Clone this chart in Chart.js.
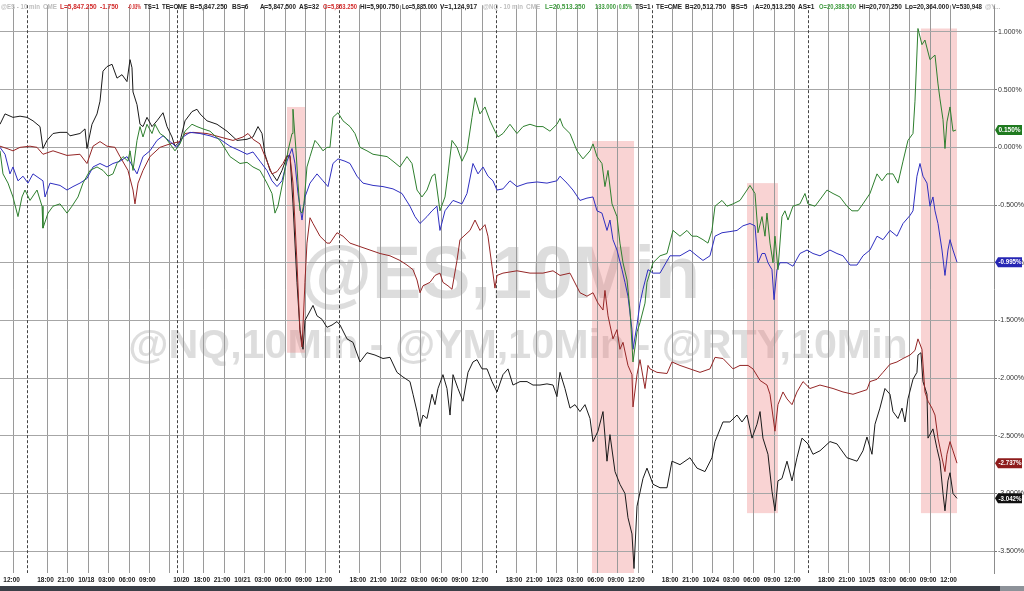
<!DOCTYPE html>
<html><head><meta charset="utf-8">
<script src="https://cdn.jsdelivr.net/npm/chart.js@4.4.0/dist/chart.umd.min.js"></script>
<style>html,body{margin:0;padding:0;background:#fff;overflow:hidden}#wrap{width:1024px;height:591px;position:relative}</style>
</head><body><div id="wrap"><canvas id="c" width="1024" height="591"></canvas></div>
<script>
// x values are trading hours from the left edge (10-min bars, session gaps removed); y values are % change
const tickHours = [2,7,10,13,16,19,22,25,27,30,33,36,39,42,45,48,53,56,59,62,65,68,71,76,79,82,85,88,91,94,99,102,105,108,111,114,117,122,125,128,131,134,137,140];
const tickLabels = ['12:00','18:00','21:00','10/18','03:00','06:00','09:00','','10/20','18:00','21:00','10/21','03:00','06:00','09:00','12:00','18:00','21:00','10/22','03:00','06:00','09:00','12:00','18:00','21:00','10/23','03:00','06:00','09:00','12:00','18:00','21:00','10/24','03:00','06:00','09:00','12:00','18:00','21:00','10/25','03:00','06:00','09:00','12:00'];
const sessionBreaks = [4,26,50,73,96,119];
const yTicks = [1.0,0.5,0,-0.5,-1.0,-1.5,-2.0,-2.5,-3.0,-3.5];

const zoneStart = [42.27,87.19,110.02,135.64];
const zoneEnd = [44.92,93.38,114.58,140.95];
const zoneTop = [0.35,0.055,-0.31,1.03];
const zoneBottom = [-1.78,-3.69,-3.17,-3.17];

const blackHours = [0,0.74,1.91,2.95,3.98,4.86,5.89,6.33,6.92,7.81,8.84,9.87,10.31,11.78,12.52,12.81,13.55,14.29,14.73,15.17,15.76,16.5,17.23,17.97,18.7,19.15,19.44,19.59,20.18,20.62,21.06,21.65,22.39,23.12,24.01,24.6,25.33,25.77,26.51,27.25,28.28,29.01,29.46,30.49,31.96,33.43,34.91,36.38,37.26,38,38.59,39.03,39.77,40.8,41.53,42.27,42.71,43.15,43.74,44.18,44.63,44.92,46.1,46.69,47.42,48.16,48.9,49.63,50.08,51.11,51.99,53.02,54.05,55.23,56.41,57.44,58.47,59.35,60.38,60.83,61.42,61.86,62.3,62.89,63.63,64.07,64.51,65.24,65.83,66.28,66.72,67.45,68.19,68.93,69.66,70.25,70.99,71.73,72.46,73.2,74.08,74.82,75.55,76.59,77.62,78.5,79.53,80.56,81.45,82.03,82.48,83.21,83.95,84.69,85.42,86.16,86.9,87.34,88.07,88.81,89.4,89.84,90.58,91.31,92.05,92.49,93.08,93.38,93.82,94.7,95.29,96.18,97.21,98.24,98.97,100.15,101.62,102.65,103.83,104.86,105.31,106.48,107.51,108.55,109.28,110.02,110.76,111.49,111.94,112.37,113.11,113.7,114.14,114.58,115.17,115.91,116.65,117.38,118.12,119,119.74,120.77,122.24,123.27,124.74,126.22,127.1,127.69,128.43,128.87,129.6,130.34,131.08,131.52,132.26,132.85,133.29,133.73,134.47,135.05,135.2,135.64,135.94,136.53,136.68,137.41,138,138.44,138.89,139.18,139.62,139.92,140.36,140.95];
const blackValues = [0.20,0.29,0.26,0.27,0.26,0.23,0.18,-0.01,0.06,0.12,0.13,0.13,0.10,0.12,0.16,-0.01,0.20,0.29,0.40,0.66,0.70,0.72,0.60,0.63,0.57,0.76,0.69,0.48,0.37,0.20,0.18,0.26,0.18,0.23,0.30,0.18,0.09,0.01,0.05,0.23,0.31,0.33,0.29,0.23,0.20,0.14,0.06,0.07,0.09,0.18,0.12,-0.06,-0.20,-0.29,-0.20,-0.08,-0.07,-0.49,-1.17,-1.58,-1.75,-1.50,-1.37,-1.46,-1.49,-1.56,-1.54,-1.51,-1.54,-1.66,-1.69,-1.86,-1.78,-1.80,-1.83,-1.82,-1.95,-1.99,-2.03,-2.14,-2.29,-2.42,-2.32,-2.35,-2.14,-2.23,-2.09,-1.97,-2.09,-2.32,-1.97,-2.09,-2.20,-1.95,-1.86,-1.84,-1.92,-1.92,-2.03,-2.12,-1.97,-1.92,-2.06,-2.03,-2.03,-2.06,-2.06,-2.05,-2.06,-2.16,-1.95,-2.09,-2.26,-2.23,-2.29,-2.23,-2.35,-2.55,-2.46,-2.29,-2.72,-2.49,-2.81,-2.92,-3.00,-3.21,-3.35,-3.65,-3.11,-2.87,-2.78,-2.92,-2.95,-2.95,-2.72,-2.75,-2.69,-2.78,-2.81,-2.69,-2.55,-2.38,-2.38,-2.32,-2.38,-2.32,-2.52,-2.40,-2.29,-2.52,-2.66,-2.98,-3.15,-2.89,-2.87,-2.72,-2.89,-2.69,-2.52,-2.57,-2.66,-2.63,-2.55,-2.57,-2.69,-2.72,-2.63,-2.51,-2.66,-2.40,-2.26,-2.09,-2.14,-2.29,-2.35,-2.26,-2.38,-2.18,-2.01,-1.95,-1.80,-1.78,-2.03,-2.14,-2.52,-2.44,-2.61,-2.72,-3.00,-3.15,-2.89,-2.82,-3.00,-3.042];

const redHours = [0,1.03,1.91,2.95,4.42,5.45,6.33,7.81,9.87,11.78,12.81,13.7,14.73,15.76,16.94,17.67,18.85,19.59,19.88,20.33,21.06,22.09,23.56,25.04,26.51,27.25,28.43,30.49,32.4,34.32,35.79,36.53,37.26,38.29,39.32,40.06,40.8,41.68,42.27,42.71,43.15,43.74,44.18,44.48,44.92,45.21,45.66,46.1,47.13,48.16,48.6,49.63,50.52,51.55,53.02,54.49,55.97,57.44,58.91,59.94,60.83,61.42,61.86,62.3,63.33,64.07,64.8,65.24,65.98,66.57,67.31,67.75,69.22,69.96,70.69,71.43,71.87,72.46,72.9,73.2,74.08,76.14,78.06,79.97,81.45,82.48,83.95,85.42,86.45,87.34,88.07,88.81,89.1,89.55,90.28,90.87,91.31,91.76,92.49,93.08,93.23,93.82,94.26,95,95.44,95.73,96.76,98.24,98.97,100.15,101.62,103.1,104.57,105.31,106.48,107.96,108.99,110.17,110.9,111.94,112.96,113.41,114.14,114.58,115.32,115.91,116.65,117.38,118.27,119.3,120.77,122.69,124.16,125.63,126.66,127.69,128.13,129.17,130.05,131.08,132.11,133,134.03,134.76,135.2,135.79,136.23,136.68,137.27,137.71,138.15,138.74,139.18,139.47,139.92,140.36,140.95];
const redValues = [0.01,-0.01,-0.03,0.00,0.01,0.00,-0.06,-0.03,-0.07,-0.06,-0.14,0.01,0.05,0.01,0.00,-0.08,-0.20,-0.37,-0.49,-0.31,-0.20,-0.08,0.00,0.03,0.05,0.12,0.13,0.12,0.09,0.06,0.09,0.12,0.07,0.03,-0.12,-0.23,-0.21,-0.14,-0.07,-0.08,-0.31,-1.00,-1.60,-1.73,-1.17,-0.83,-0.61,-0.66,-0.77,-0.83,-0.83,-0.74,-0.77,-0.83,-0.86,-0.89,-0.92,-0.94,-0.98,-1.02,-1.06,-1.15,-1.26,-1.20,-1.17,-1.11,-1.09,-1.17,-1.20,-1.23,-0.98,-0.80,-0.72,-0.63,-0.72,-0.67,-0.77,-1.03,-1.22,-1.11,-1.09,-1.07,-1.09,-1.09,-1.07,-1.11,-1.09,-1.26,-1.29,-1.26,-1.35,-1.41,-1.24,-1.46,-1.66,-1.58,-1.75,-1.69,-1.89,-1.97,-2.25,-1.97,-1.84,-2.09,-1.89,-1.92,-1.95,-1.96,-1.86,-1.89,-1.92,-1.95,-1.92,-1.82,-1.83,-1.92,-1.89,-1.89,-1.92,-2.02,-2.06,-2.14,-2.46,-2.23,-2.12,-2.18,-2.23,-2.12,-2.03,-2.09,-2.06,-2.09,-2.12,-2.14,-2.12,-2.10,-2.03,-2.01,-1.95,-1.88,-1.86,-1.83,-1.80,-1.76,-1.66,-1.75,-2.12,-2.20,-2.26,-2.32,-2.52,-2.69,-2.81,-2.66,-2.55,-2.63,-2.737];

const blueHours = [0,0.74,1.47,1.91,2.65,3.39,4.12,4.86,6.33,6.63,7.36,8.84,9.87,10.75,11.78,12.81,13.7,14.73,15.76,16.64,17.67,18.7,19.59,20.18,21.06,22.09,23.12,24.01,25.04,26.07,26.95,27.98,29.46,30.93,32.4,33.87,35.35,36.38,37.26,38.29,39.32,40.06,40.8,41.53,42.27,43.01,43.45,43.89,44.48,44.92,45.66,46.69,47.57,48.31,49.04,49.78,50.81,51.55,52.58,53.46,54.94,56.41,57.88,59.21,60.38,61.12,61.86,62.89,63.63,64.36,64.8,65.54,66.72,68.04,68.78,69.66,70.4,71.14,71.87,72.61,73.2,74.08,75.11,76.14,77.62,79.09,80.56,82.03,82.48,83.51,84.39,85.42,86.45,87.34,87.93,88.66,89.4,89.84,90.28,90.87,91.61,92.05,92.49,93.08,93.23,93.82,94.26,94.7,95.44,96.18,97.21,98.68,100.15,101.62,102.65,103.54,104.57,105.31,106.34,107.51,108.55,109.43,110.46,111.2,111.64,112.23,112.67,113.11,113.7,114,114.44,114.88,115.91,116.79,117.82,118.86,119.74,120.77,122.24,123.27,124.16,125.19,126.22,127.1,128.13,129.17,130.05,131.08,132.11,133,134.03,134.47,135.05,135.5,135.94,136.53,136.97,137.41,137.71,138.15,138.74,139.18,139.62,139.92,140.36,140.95];
const blueValues = [0.00,-0.06,-0.23,-0.17,-0.29,-0.25,-0.31,-0.23,-0.29,-0.43,-0.31,-0.33,-0.37,-0.34,-0.31,-0.27,-0.17,-0.14,-0.17,-0.14,-0.12,-0.08,-0.17,-0.23,-0.08,-0.03,0.06,0.10,0.05,0.00,0.09,0.13,0.12,0.10,0.07,0.01,-0.03,-0.06,-0.04,-0.12,-0.20,-0.29,-0.34,-0.29,-0.12,-0.01,-0.14,-0.40,-0.63,-0.43,-0.31,-0.23,-0.29,-0.34,-0.14,-0.10,-0.12,-0.14,-0.25,-0.31,-0.33,-0.34,-0.36,-0.40,-0.51,-0.60,-0.66,-0.60,-0.55,-0.51,-0.72,-0.55,-0.46,-0.49,-0.40,-0.14,-0.23,-0.17,-0.25,-0.29,-0.37,-0.36,-0.29,-0.34,-0.31,-0.30,-0.31,-0.29,-0.25,-0.31,-0.37,-0.46,-0.44,-0.43,-0.55,-0.57,-0.72,-0.63,-0.80,-0.89,-1.06,-1.17,-1.29,-1.58,-1.75,-1.54,-1.35,-1.23,-1.06,-1.09,-1.09,-0.94,-0.94,-0.89,-0.94,-0.98,-0.94,-0.77,-0.74,-0.73,-0.72,-0.68,-0.66,-0.68,-1.00,-0.92,-0.92,-1.00,-1.06,-1.32,-1.06,-1.00,-1.00,-1.03,-0.92,-0.89,-0.92,-0.94,-0.89,-0.92,-0.94,-1.02,-1.02,-0.94,-0.89,-0.77,-0.80,-0.72,-0.77,-0.66,-0.59,-0.55,-0.25,-0.14,-0.25,-0.31,-0.51,-0.43,-0.55,-0.66,-0.89,-1.11,-0.89,-0.80,-0.89,-0.995];

const greenHours = [0,0.44,1.18,1.91,2.65,3.24,3.68,4.42,5.45,6.19,6.33,7.07,7.81,8.84,9.87,10.6,11.49,12.22,13.26,14.29,15.17,15.91,16.64,17.23,18.12,18.85,19.15,19.59,20.18,20.62,21.06,21.65,22.39,22.83,23.56,24.3,25.04,25.77,26.51,27.25,28.28,29.01,29.9,30.93,32.4,33.87,35.35,36.38,37.26,38.29,39.32,40.06,40.5,40.94,41.68,42.42,43.01,43.15,43.6,43.89,44.18,44.48,44.77,45.21,45.66,46.39,46.84,47.57,48.16,48.6,49.04,49.78,50.52,51.55,52.28,53.02,54.05,54.94,55.97,57,57.88,58.91,59.94,60.68,61.42,62.15,62.89,63.63,64.07,64.8,65.54,65.98,66.57,67.31,68.04,68.78,69.52,69.96,70.69,71.43,72.17,72.9,73.35,74.08,75.11,76.14,77.03,78.06,79.09,79.97,81,82.03,82.48,82.92,83.95,84.98,85.86,86.9,87.34,87.93,88.66,89.1,89.55,90.14,90.87,91.31,91.76,92.35,92.79,93.23,93.82,94.26,95,95.29,96.18,97.21,98.24,99.12,100.15,101.18,101.92,102.65,103.54,104.27,104.86,105.31,106.34,107.07,107.96,108.99,110.02,110.46,111.2,111.64,112.23,112.67,112.96,113.41,113.85,114.14,114.58,115.17,115.61,116.06,116.79,117.82,118.56,119,120.04,121.06,121.8,122.69,123.71,124.74,125.48,126.37,127.1,128.13,129.17,129.9,130.64,131.52,132.26,133,133.73,134.47,134.76,135.2,135.79,136.23,136.97,137.71,138.15,138.44,138.89,139.18,139.47,139.92,140.36,140.8];
const greenValues = [-0.03,-0.23,-0.31,-0.43,-0.60,-0.43,-0.37,-0.46,-0.37,-0.51,-0.70,-0.57,-0.51,-0.49,-0.57,-0.51,-0.43,-0.31,-0.20,-0.17,-0.20,-0.25,-0.23,-0.14,-0.08,-0.12,-0.03,-0.20,0.06,0.18,0.09,0.20,0.12,0.20,0.12,0.09,0.03,-0.03,0.03,0.14,0.20,0.18,0.16,0.14,0.06,-0.08,-0.14,-0.13,-0.17,-0.20,-0.31,-0.40,-0.57,-0.51,-0.29,-0.03,0.12,0.33,-0.03,-0.31,-0.55,-0.57,-0.49,-0.17,-0.08,0.06,0.03,-0.03,0.00,0.00,0.26,0.30,0.23,0.18,0.12,0.00,-0.03,-0.06,-0.07,-0.08,-0.12,-0.17,-0.08,-0.14,-0.37,-0.43,-0.37,-0.25,-0.23,-0.55,-0.43,-0.23,0.06,0.00,-0.12,-0.03,0.26,0.43,0.29,0.35,0.23,0.14,0.09,0.12,0.20,0.12,0.18,0.20,0.18,0.18,0.14,0.20,0.25,0.18,0.12,-0.03,-0.10,-0.03,0.03,-0.08,-0.14,-0.34,-0.20,-0.49,-0.60,-0.83,-1.00,-1.15,-1.41,-1.86,-1.60,-1.52,-1.35,-1.17,-1.00,-0.94,-0.92,-0.72,-0.77,-0.72,-0.77,-0.77,-0.80,-0.83,-0.72,-0.51,-0.46,-0.51,-0.49,-0.46,-0.37,-0.33,-0.40,-0.74,-0.60,-0.77,-0.57,-0.83,-1.00,-0.77,-1.06,-0.60,-0.55,-0.63,-0.51,-0.49,-0.40,-0.49,-0.51,-0.43,-0.37,-0.40,-0.43,-0.51,-0.55,-0.55,-0.49,-0.40,-0.23,-0.29,-0.23,-0.23,-0.31,-0.12,0.06,0.12,0.40,1.03,0.89,0.93,0.76,0.80,0.55,0.42,0.24,-0.01,0.22,0.35,0.14,0.15];

const seriesNames = ['@ES','@NQ','@YM','@RTY'];

function pts(h, v){ const n=Math.min(h.length,v.length); const out=[]; for(let i=0;i<n;i++) out.push({x:h[i],y:v[i]}); return out; }

const FONT = '"Liberation Sans", Arial, sans-serif';

const header = [
 [1,'@ES - 10 min','#bdbdbd'],[43,'CME','#bdbdbd'],[60,'L=5,847.250','#d22b2b'],[100,'-1.750','#d22b2b'],[128,'-0.03%','#d22b2b'],[144,'TS=1','#222'],[162,'TE=CME','#222'],[190,'B=5,847.250','#222'],[232,'BS=6','#222'],[260,'A=5,847.500','#222'],[299,'AS=32','#222'],[323,'O=5,853.250','#d22b2b'],[360,'Hi=5,900.750','#222'],[402,'Lo=5,835.000','#222'],[440,'V=1,124,917','#222'],[483,'@NQ - 10 min','#bdbdbd'],[526,'CME','#bdbdbd'],[545,'L=20,513.250','#3d9b3d'],[595,'133.000','#3d9b3d'],[619,'0.65%','#3d9b3d'],[635,'TS=1','#222'],[656,'TE=CME','#222'],[685,'B=20,512.750','#222'],[731,'BS=5','#222'],[755,'A=20,513.250','#222'],[798,'AS=1','#222'],[819,'O=20,388.500','#3d9b3d'],[859,'Hi=20,707.250','#222'],[905,'Lo=20,364.000','#222'],[952,'V=530,948','#222'],[985,'@Y...','#bdbdbd']
];

const bgPlugin = {
  id:'bg',
  beforeDraw(chart){
    const {ctx, chartArea:a, scales:{x,y}} = chart;
    ctx.save();
    ctx.fillStyle='#fff'; ctx.fillRect(0,0,chart.width,chart.height);
    ctx.fillStyle='rgba(212,212,212,0.8)';
    ctx.textAlign='center'; ctx.textBaseline='alphabetic';
    let t1='@ES,10Min';
    ctx.font='bold 80px '+FONT;
    let w=ctx.measureText(t1).width; let fs=80*400/w;
    ctx.font='bold '+fs.toFixed(1)+'px '+FONT;
    ctx.fillText(t1, 500, 298);
    let t2='@NQ,10Min - @YM,10Min - @RTY,10Min';
    ctx.font='bold 44px '+FONT;
    w=ctx.measureText(t2).width; fs=44*780/w;
    ctx.font='bold '+fs.toFixed(1)+'px '+FONT;
    ctx.fillText(t2, 518, 358);
    ctx.fillStyle='rgba(236,120,120,0.33)';
    for(let i=0;i<zoneStart.length;i++){
      const x0=x.getPixelForValue(zoneStart[i]), x1=x.getPixelForValue(zoneEnd[i]);
      const y0=y.getPixelForValue(zoneTop[i]), y1=Math.min(a.bottom, y.getPixelForValue(zoneBottom[i]));
      ctx.fillRect(x0,y0,x1-x0,y1-y0);
    }
    ctx.restore();
  },
  beforeDatasetsDraw(chart){
    const {ctx, chartArea:a, scales:{x}} = chart;
    ctx.save();
    ctx.strokeStyle='#444'; ctx.lineWidth=1; ctx.setLineDash([3,2]);
    for(const h of sessionBreaks){
      const px=Math.round(x.getPixelForValue(h))+0.5;
      ctx.beginPath(); ctx.moveTo(px,a.top); ctx.lineTo(px,a.bottom); ctx.stroke();
    }
    ctx.restore();
  },
  afterDraw(chart){
    const {ctx, chartArea:a, scales:{x,y}} = chart;
    ctx.save();
    ctx.font='bold 6.5px '+FONT; ctx.fillStyle='#222'; ctx.textAlign='center'; ctx.textBaseline='middle';
    tickHours.forEach((h,i)=>{ if(tickLabels[i]) ctx.fillText(tickLabels[i], x.getPixelForValue(h)-2, 580); });
    ctx.fillStyle='#3b4048'; ctx.fillRect(0,586,1000,5);
    ctx.fillStyle='#8d9299'; ctx.fillRect(1000,586,24,5);
    ctx.font='bold 6.5px '+FONT; ctx.textAlign='left'; ctx.textBaseline='alphabetic';
    for(let i=0;i<header.length;i++){
      const [hx,t,c]=header[i];
      const nx = i<header.length-1 ? header[i+1][0] : 1024;
      ctx.fillStyle=c; ctx.fillText(t,hx,9,Math.max(6,nx-hx-3));
    }
    const tags=[[greenValues,'#1f7a1f'],[blueValues,'#2626b4'],[redValues,'#8e1c1c'],[blackValues,'#111111']];
    ctx.font='bold 6.5px '+FONT; ctx.textBaseline='middle';
    for(const [vals,col] of tags){
      const v=vals[vals.length-1]; const py=y.getPixelForValue(v);
      const x0=995, w=27, h=10;
      ctx.fillStyle=col; ctx.beginPath();
      ctx.moveTo(x0,py); ctx.lineTo(x0+3,py-h/2); ctx.lineTo(x0+w,py-h/2); ctx.lineTo(x0+w,py+h/2); ctx.lineTo(x0+3,py+h/2); ctx.closePath(); ctx.fill();
      ctx.fillStyle='#fff'; ctx.fillText(v.toFixed(3)+'%', x0+3.5, py+0.5, w-4);
    }
    ctx.restore();
  }
};

const mk=(label,h,v,color)=>({label, data:pts(h,v), borderColor:color, borderWidth:1, pointRadius:0, tension:0, fill:false});

new Chart(document.getElementById('c'),{
  type:'line',
  data:{datasets:[
    mk(seriesNames[3],greenHours,greenValues,'#2e7f2e'),
    mk(seriesNames[1],blueHours,blueValues,'#2f2fc0'),
    mk(seriesNames[2],redHours,redValues,'#952626'),
    mk(seriesNames[0],blackHours,blackValues,'#1a1a1a')
  ]},
  options:{
    responsive:false, animation:false, devicePixelRatio:1,
    layout:{padding:0},
    plugins:{legend:{display:false}, tooltip:{enabled:false}},
    scales:{
      x:{type:'linear', min:0, max:146.4, position:'bottom',
        afterBuildTicks:s=>{ s.ticks=tickHours.map(v=>({value:v})); },
        afterFit:s=>{ s.height=18; },
        ticks:{display:false},
        grid:{color:'#9a9a9a', lineWidth:1, drawTicks:false},
        border:{display:false}
      },
      y:{type:'linear', position:'right', min:-3.689, max:1.232,
        afterBuildTicks:s=>{ s.ticks=yTicks.map(v=>({value:v})); },
        afterFit:s=>{ s.width=30; },
        ticks:{color:'#333', font:{size:7, family:FONT}, padding:1, callback:v=>Number(v).toFixed(3)+'%'},
        grid:{color:'#a6a6a6', lineWidth:1, drawTicks:true, tickLength:3, tickColor:'#777'},
        border:{display:true, color:'#8c8c8c'}
      }
    }
  },
  plugins:[bgPlugin]
});
</script>
</body></html>
